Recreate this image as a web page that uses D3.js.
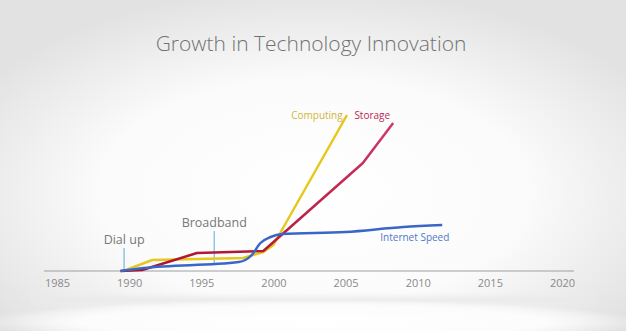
<!DOCTYPE html>
<html><head><meta charset="utf-8">
<script src="https://cdn.jsdelivr.net/npm/d3@7"></script>
<style>html,body{margin:0;padding:0;background:#fff;}svg{display:block;}</style>
</head><body>
<svg id="c" width="626" height="331"></svg>
<script>
const title = "Growth in Technology Innovation";
const tickYears = [1985, 1990, 1995, 2000, 2005, 2010, 2015, 2020];
const computing = [[1989.6,0],[1991.6,11],[1997.9,13],[1999.3,19],[2000,26],[2005.1,156]];
const storage = [[1989.4,0],[1990.9,1],[1994.7,18],[1999.3,20],[2006.2,108],[2008.3,148]];
const internet = [[1989.4,0],[1991,3],[1997.6,9],[1998.5,16],[1999.1,28],[1999.8,34],[2000.6,37],[2005,39],[2009,44],[2011.7,46]];
const annotations = [{label:"Dial up", year:1989.65, from:0, to:23}, {label:"Broadband", year:1995.9, from:8, to:40}];

const svg = d3.select("#c");
const W = 626, H = 331;
const defs = svg.append("defs");
const bg = defs.append("radialGradient").attr("id","bg").attr("cx","50%").attr("cy","58%").attr("r","62%");
bg.append("stop").attr("offset","0%").attr("stop-color","#ffffff");
bg.append("stop").attr("offset","55%").attr("stop-color","#fbfbfb");
bg.append("stop").attr("offset","100%").attr("stop-color","#e2e2e2");
svg.append("rect").attr("width",W).attr("height",H).attr("fill","url(#bg)");
const fl = defs.append("radialGradient").attr("id","fl").attr("cx","50%").attr("cy","50%").attr("r","50%");
fl.append("stop").attr("offset","0%").attr("stop-color","#ffffff");
fl.append("stop").attr("offset","70%").attr("stop-color","#fcfcfc");
fl.append("stop").attr("offset","100%").attr("stop-color","#ffffff").attr("stop-opacity",0);
const sh = defs.append("linearGradient").attr("id","sh").attr("x1",0).attr("x2",0).attr("y1",0).attr("y2",1);
sh.append("stop").attr("offset","0%").attr("stop-color","#ececec").attr("stop-opacity",0);
sh.append("stop").attr("offset","50%").attr("stop-color","#e9e9e9").attr("stop-opacity",0.8);
sh.append("stop").attr("offset","100%").attr("stop-color","#ececec").attr("stop-opacity",0);
svg.append("rect").attr("x",30).attr("y",292).attr("width",566).attr("height",16).attr("fill","url(#sh)");
svg.append("ellipse").attr("cx",313).attr("cy",322).attr("rx",330).attr("ry",22).attr("fill","url(#fl)");

const x = d3.scaleLinear().domain([1985, 2020]).range([57, 562]);
const y = d3.scaleLinear().domain([0, 160]).range([271, 111]);

svg.append("text").attr("x",311).attr("y",51).attr("text-anchor","middle")
  .attr("font-family","'Open Sans'").attr("font-weight",300).attr("font-size",21)
  .attr("fill","#727272").text(title);

// axis
const ax = svg.append("g").attr("transform",`translate(0,${y(0)})`)
  .call(d3.axisBottom(x).tickValues(tickYears).tickFormat(d3.format("d")).tickSize(0).tickPadding(8));
ax.select(".domain").remove();
ax.selectAll("text").attr("font-family","'Open Sans'").attr("font-size",11).attr("fill","#8a8a8a");
svg.append("line").attr("x1",x.range()[0]-13).attr("x2",x.range()[1]+12).attr("y1",y(0)).attr("y2",y(0))
  .attr("stroke","#a0a0a0").attr("stroke-width",1.2);

// annotations
annotations.forEach(a=>{
  svg.append("line").attr("x1",x(a.year)).attr("x2",x(a.year)).attr("y1",y(a.from)).attr("y2",y(a.to))
    .attr("stroke","#8cc6e2").attr("stroke-width",1.5);
  svg.append("text").attr("x",x(a.year)).attr("y",y(a.to)-4).attr("text-anchor","middle")
    .attr("font-family","'Open Sans'").attr("font-size",12.5).attr("fill","#777").text(a.label);
});

const rg = defs.append("linearGradient").attr("id","rg").attr("gradientUnits","userSpaceOnUse")
  .attr("x1",0).attr("x2",0).attr("y1",y(0)).attr("y2",y(150));
rg.append("stop").attr("offset","0%").attr("stop-color","#a8132c");
rg.append("stop").attr("offset","20%").attr("stop-color","#b71c3c");
rg.append("stop").attr("offset","100%").attr("stop-color","#d03a6c");

const line = d3.line().x(d=>x(d[0])).y(d=>y(d[1]));
const lineSmooth = d3.line().x(d=>x(d[0])).y(d=>y(d[1])).curve(d3.curveMonotoneX);

svg.append("path").attr("d",line(computing)).attr("fill","none").attr("stroke","#e8c71c").attr("stroke-width",2.5).attr("stroke-linejoin","round");
svg.append("path").attr("d",line(storage)).attr("fill","none").attr("stroke","url(#rg)").attr("stroke-width",2.5).attr("stroke-linejoin","round");
svg.append("path").attr("d",lineSmooth(internet)).attr("fill","none").attr("stroke","#3a66c9").attr("stroke-width",2.5).attr("stroke-linejoin","round");

// series labels
const lab = (t, xv, yv, c, anchor) => svg.append("text").attr("x",x(xv)).attr("y",y(yv)).attr("text-anchor",anchor)
  .attr("font-family","'Open Sans'").attr("font-size",10).attr("fill",c).text(t);
lab("Computing", 2004.8, 152, "#d2b43a", "end");
lab("Storage", 2006.85, 152, "#b9284e", "middle");
lab("Internet Speed", 2009.8, 30, "#5078c8", "middle");
</script>
</body></html>
